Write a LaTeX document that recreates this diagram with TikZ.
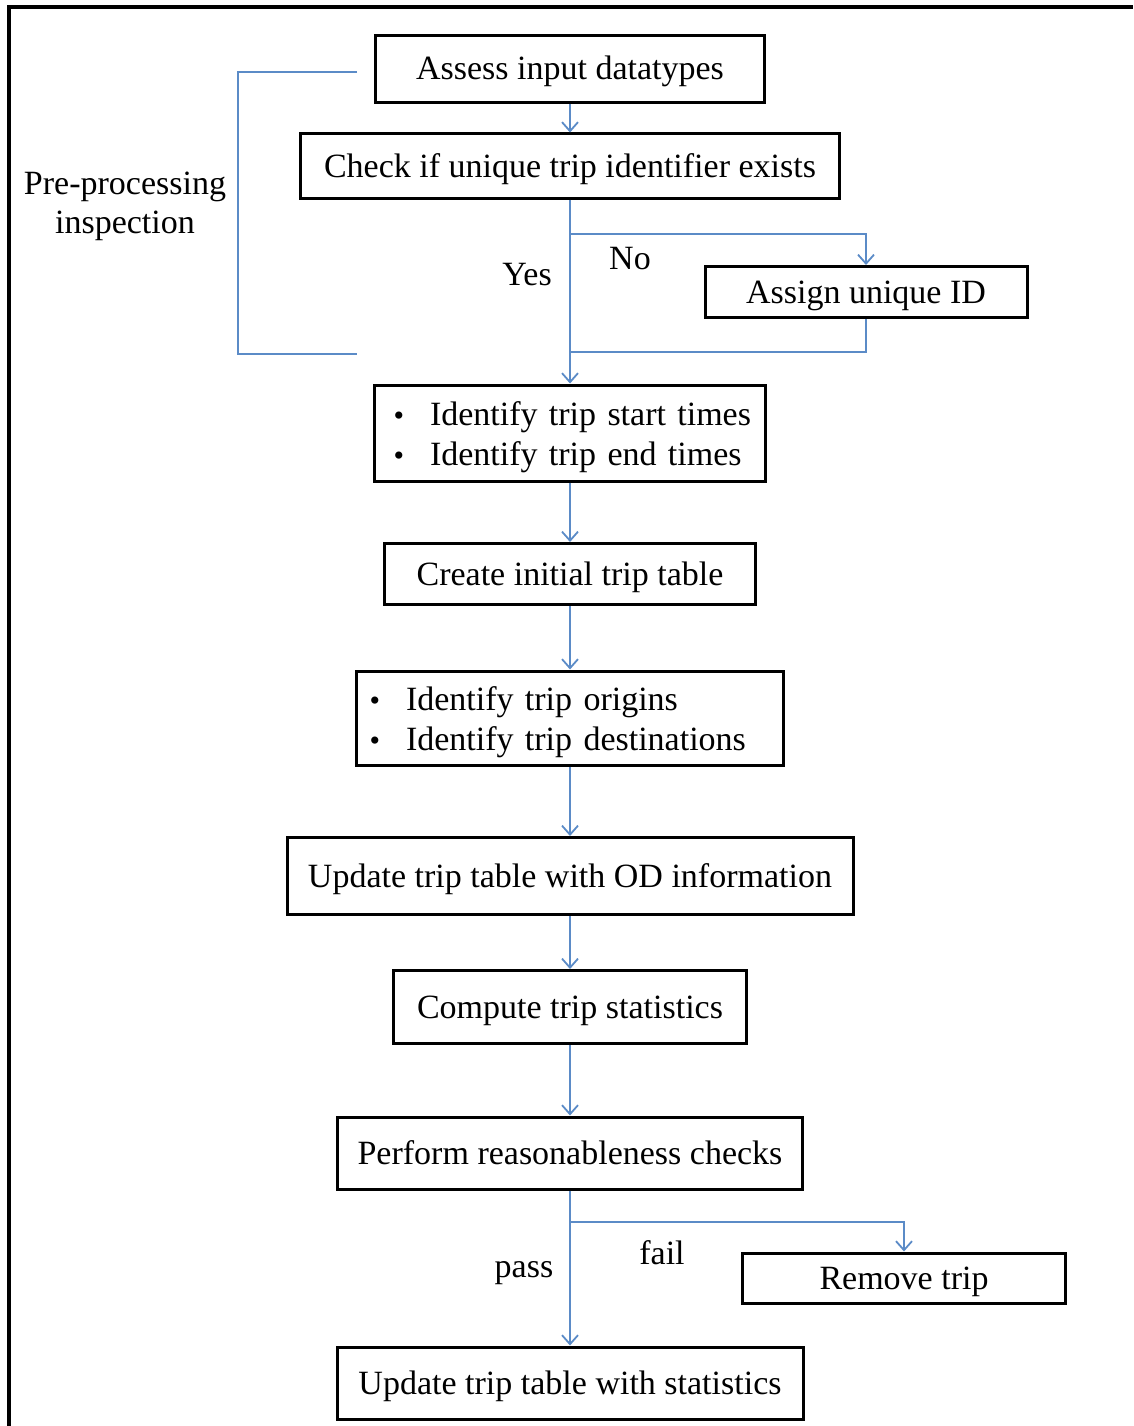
\documentclass[tikz,border=0pt]{standalone}
\usepackage{fontspec}
\setmainfont{Liberation Serif}
\usetikzlibrary{arrows.meta}

\definecolor{flowblue}{HTML}{5B8BC7}

\tikzset{
  box/.style={draw=black, line width=3pt, inner sep=0pt, align=center,
    text height=22pt, text depth=0pt, font=\fontsize{34}{40}\selectfont},
  listbox/.style={draw=black, line width=3pt, inner ysep=0pt, align=left,
    font=\fontsize{34}{40}\selectfont},
  tag/.style={inner sep=0pt, align=center, font=\fontsize{34}{39}\selectfont},
  link/.style={draw=flowblue, line width=1.8pt},
  flow/.style={link, -{Straight Barb[length=9pt, width=16pt, line width=1.8pt]}}
}
\newcommand{\bulletrow}[1]{{\fontsize{30}{30}\selectfont\textbullet} & #1}
\newcommand{\bulletlist}[2]{\raisebox{-4pt}[\height][\depth]{\begin{tabular}{@{}l@{\hspace{26pt}}l@{}}\bulletrow{#1}\\ \bulletrow{#2}\end{tabular}}}

\begin{document}
\begin{tikzpicture}[x=1pt, y=-1pt]
  \useasboundingbox (0,0) rectangle (1133,1426);

  % frame
  \draw[line width=4pt] (9,1426) -- (9,7) -- (1133,7);

  % boxes
  \node[box, minimum width=389pt, minimum height=67pt] (assess) at (570,69) {Assess input datatypes};
  \node[box, minimum width=539pt, minimum height=64pt] (check) at (570,166) {Check if unique trip identifier exists};
  \node[box, minimum width=322pt, minimum height=51pt] (assign) at (866,292) {Assign unique ID};
  \node[listbox, inner xsep=19pt, text width=353pt, minimum height=96pt] (ident) at (570,433)
    {\bulletlist{Identify trip start times}{Identify trip end times}};
  \node[box, minimum width=371pt, minimum height=61pt] (create) at (570,574) {Create initial trip table};
  \node[listbox, inner xsep=13pt, text width=401pt, minimum height=94pt] (orig) at (570,718)
    {\bulletlist{Identify trip origins}{Identify trip destinations}};
  \node[box, minimum width=566pt, minimum height=77pt] (odupd) at (570,876) {Update trip table with OD information};
  \node[box, minimum width=353pt, minimum height=73pt] (stats) at (570,1007) {Compute trip statistics};
  \node[box, minimum width=465pt, minimum height=72pt] (checks) at (570,1153) {Perform reasonableness checks};
  \node[box, minimum width=323pt, minimum height=50pt] (remove) at (904,1278) {Remove trip};
  \node[box, minimum width=466pt, minimum height=72pt] (final) at (570,1383) {Update trip table with statistics};

  % labels
  \node[tag] (yes) at (527,275) {Yes};
  \node[tag] (no) at (630,259) {No};
  \node[tag] (pass) at (524,1273) {pass};
  \node[tag] (fail) at (662,1253) {fail};
  \node[tag] (prep) at (125,206) {Pre-processing\\inspection};

  % bracket
  \draw[link] (357,72) -- (238,72) -- (238,354) -- (357,354);

  % branch points
  \coordinate (split1) at (570,234);
  \coordinate (join1) at (570,352);
  \coordinate (split2) at (570,1222);

  % connectors
  \draw[flow] (assess.south) -- (check.north);
  \draw[flow] (check.south) -- (ident.north);
  \draw[flow] (split1) -| (assign.north);
  \draw[link] (assign.south) |- (join1);
  \draw[flow] (ident.south) -- (create.north);
  \draw[flow] (create.south) -- (orig.north);
  \draw[flow] (orig.south) -- (odupd.north);
  \draw[flow] (odupd.south) -- (stats.north);
  \draw[flow] (stats.south) -- (checks.north);
  \draw[flow] (checks.south) -- (final.north);
  \draw[flow] (split2) -| (remove.north);
\end{tikzpicture}
\end{document}
